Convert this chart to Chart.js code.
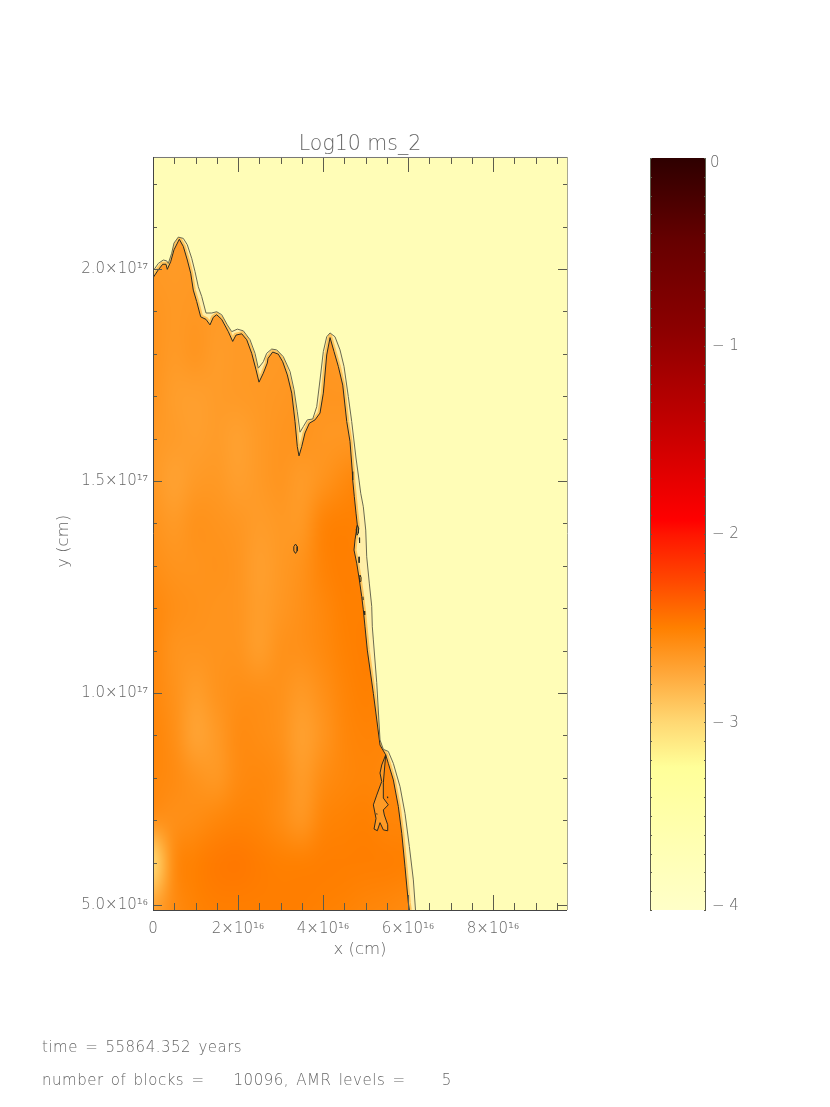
<!DOCTYPE html>
<html>
<head>
<meta charset="utf-8">
<title>Log10 ms_2</title>
<script src="https://cdn.jsdelivr.net/npm/chart.js@4"></script>
<style>
  html, body { margin: 0; padding: 0; background: #fff; }
  #page { position: relative; width: 830px; height: 1107px; overflow: hidden; }
  canvas { position: absolute; left: 0; top: 0; }
  .note { position: absolute; left: 42px; font: 200 15px "DejaVu Sans ExtraLight", "DejaVu Sans"; color: #666; white-space: pre; letter-spacing: 0.5px; word-spacing: 2px; }
</style>
</head>
<body>
<div id="page">
  <canvas id="field" width="830" height="1107"></canvas>
  <canvas id="bar" width="830" height="1107"></canvas>
  <div class="note" style="top:1038px">time = 55864.352 years</div>
  <div class="note" style="top:1071px">number of blocks =    10096, AMR levels =     5</div>
</div>
<script>
// all x and y values in units of 1e16 cm
const xMin = 0, xMax = 9.74, yMin = 4.88, yMax = 22.64;
const xTickValues = [0, 2, 4, 6, 8];
const xTickLabels = ['0', '2×10¹⁶', '4×10¹⁶', '6×10¹⁶', '8×10¹⁶'];
const yTickValues = [5, 10, 15, 20];
const yTickLabels = ['5.0×10¹⁶', '1.0×10¹⁷', '1.5×10¹⁷', '2.0×10¹⁷'];

// inner contour
const innerX = [0, .125, .228, .306, .336, .416, .494, .619, .713, .807, .887, .948, 1.028, 1.122, 1.247, 1.341, 1.419, 1.499, 1.616, 1.772, 1.875, 1.953, 2.087, 2.205, 2.322, 2.424, 2.494, 2.595, 2.689, 2.706, 2.816, 2.948, 3.052, 3.16, 3.264, 3.341, 3.395, 3.435, 3.499, 3.576, 3.678, 3.812, 3.929, 4.007, 4.087, 4.165, 4.259, 4.36, 4.464, 4.558, 4.635, 4.689, 4.699, 4.736, 4.776, 4.807, 4.753, 4.729, 4.793, 4.854, 4.911, 4.948, 4.988, 5.042, 5.184, 5.341, 5.475, 5.536, 5.654, 5.772, 5.852, 5.929, 6.007, 6.031];
const innerY = [19.79, 19.98, 20.11, 20.11, 19.99, 20.17, 20.45, 20.70, 20.53, 20.21, 19.90, 19.50, 19.23, 18.87, 18.81, 18.68, 18.86, 18.92, 18.81, 18.52, 18.29, 18.44, 18.47, 18.33, 18.01, 17.62, 17.33, 17.54, 17.78, 17.89, 18.04, 17.99, 17.81, 17.5, 17.07, 16.40, 15.81, 15.59, 15.81, 16.13, 16.36, 16.44, 16.6, 17.07, 17.97, 18.38, 18.05, 17.70, 17.26, 16.40, 15.93, 15.22, 15.02, 14.63, 14.24, 13.96, 13.61, 13.37, 13.06, 12.67, 12.27, 11.96, 11.56, 11.01, 9.99, 8.77, 8.54, 8.34, 7.95, 7.32, 6.69, 5.90, 5.05, 4.88];

// outer contour
const outerX = [0, .125, .242, .322, .36, .44, .494, .595, .713, .807, .911, .988, 1.066, 1.146, 1.247, 1.381, 1.499, 1.616, 1.748, 1.852, 1.984, 2.125, 2.282, 2.4, 2.478, 2.595, 2.675, 2.793, 2.911, 3.066, 3.224, 3.318, 3.395, 3.459, 3.536, 3.631, 3.758, 3.852, 3.929, 4.007, 4.087, 4.165, 4.282, 4.4, 4.494, 4.595, 4.675, 4.776, 4.847, 4.887, 4.948, 5.005, 5.028, 5.089, 5.146, 5.16, 5.184, 5.264, 5.341, 5.419, 5.536, 5.654, 5.812, 5.929, 6.031, 6.125, 6.176];
const outerY = [19.95, 20.13, 20.21, 20.19, 20.13, 20.37, 20.61, 20.75, 20.72, 20.57, 20.25, 19.94, 19.58, 19.35, 18.96, 18.96, 18.99, 18.92, 18.68, 18.52, 18.58, 18.54, 18.33, 18.01, 17.66, 17.81, 18.01, 18.11, 18.09, 17.93, 17.58, 17.15, 16.63, 16.15, 16.28, 16.44, 16.46, 16.75, 17.38, 18.05, 18.40, 18.49, 18.40, 18.09, 17.70, 16.99, 16.40, 15.54, 15.02, 14.71, 14.39, 13.84, 13.21, 12.59, 12.04, 11.56, 11.25, 10.24, 8.89, 8.67, 8.62, 8.34, 7.79, 7.16, 6.38, 5.59, 4.88];

// closed island behind the front near the bottom
const islandX = [5.475, 5.381, 5.341, 5.381, 5.264, 5.184, 5.247, 5.2, 5.278, 5.341, 5.419, 5.513, 5.522, 5.442, 5.419, 5.536, 5.419, 5.419, 5.475];
const islandY = [8.54, 8.30, 8.11, 7.91, 7.59, 7.36, 7.04, 6.79, 6.75, 6.94, 6.77, 6.75, 6.89, 7.12, 7.24, 7.36, 7.52, 7.88, 8.54];

// small closed contours and dashes
const smallContours = [
  [[3.353, 3.393, 3.393, 3.353, 3.313, 3.313, 3.353], [13.51, 13.45, 13.35, 13.29, 13.35, 13.45, 13.51]],
  [[4.81, 4.84, 4.83, 4.80, 4.78, 4.81], [13.96, 13.88, 13.77, 13.72, 13.85, 13.96]],
  [[4.854, 4.86], [13.66, 13.54]],
  [[4.847, 4.85], [13.21, 13.07]],
  [[4.87, 4.895, 4.89, 4.865, 4.86, 4.87], [12.78, 12.72, 12.63, 12.62, 12.72, 12.78]],
  [[4.94, 4.945], [12.27, 12.19]],
  [[4.972, 4.98], [11.93, 11.84]],
  [[5.513, 5.52], [7.55, 7.52]],
  [[5.264, 5.27], [7.16, 7.13]]
];

// log10 ms_2 read by eye on a coarse grid
const fieldX = [0, .5, 1, 1.5, 2, 2.5, 3, 3.5, 4, 4.5, 5, 5.5, 6];
const fieldY = [21, 20, 19, 18, 17, 16, 15, 14, 13, 12, 11, 10, 9, 8, 7, 6, 5, 4];
const fieldValues = [
  [-2.65, -2.65, -2.65, -2.65, -2.65, -2.65, -2.65, -2.65, -2.65, -2.65, -2.65, -2.65, -2.65],
  [-2.65, -2.66, -2.65, -2.66, -2.65, -2.65, -2.65, -2.65, -2.65, -2.65, -2.65, -2.65, -2.65],
  [-2.63, -2.65, -2.64, -2.66, -2.66, -2.66, -2.65, -2.65, -2.66, -2.66, -2.66, -2.66, -2.66],
  [-2.62, -2.66, -2.63, -2.67, -2.66, -2.66, -2.65, -2.64, -2.64, -2.66, -2.66, -2.66, -2.66],
  [-2.63, -2.68, -2.69, -2.67, -2.66, -2.65, -2.64, -2.63, -2.63, -2.63, -2.63, -2.63, -2.63],
  [-2.65, -2.67, -2.69, -2.67, -2.70, -2.66, -2.63, -2.62, -2.64, -2.64, -2.64, -2.64, -2.64],
  [-2.65, -2.71, -2.66, -2.65, -2.69, -2.66, -2.63, -2.67, -2.62, -2.56, -2.52, -2.52, -2.52],
  [-2.62, -2.66, -2.61, -2.62, -2.64, -2.67, -2.65, -2.65, -2.52, -2.50, -2.52, -2.52, -2.52],
  [-2.59, -2.62, -2.62, -2.61, -2.63, -2.69, -2.65, -2.61, -2.52, -2.49, -2.52, -2.52, -2.52],
  [-2.55, -2.59, -2.61, -2.62, -2.63, -2.68, -2.64, -2.60, -2.55, -2.50, -2.50, -2.50, -2.50],
  [-2.55, -2.62, -2.63, -2.62, -2.62, -2.68, -2.61, -2.60, -2.56, -2.51, -2.49, -2.49, -2.49],
  [-2.55, -2.61, -2.68, -2.62, -2.59, -2.59, -2.61, -2.66, -2.60, -2.53, -2.50, -2.53, -2.53],
  [-2.53, -2.59, -2.72, -2.66, -2.57, -2.58, -2.61, -2.70, -2.63, -2.54, -2.52, -2.53, -2.53],
  [-2.54, -2.57, -2.62, -2.65, -2.57, -2.55, -2.58, -2.67, -2.58, -2.54, -2.53, -2.54, -2.54],
  [-2.60, -2.60, -2.58, -2.54, -2.52, -2.53, -2.58, -2.64, -2.53, -2.51, -2.50, -2.53, -2.53],
  [-3.05, -2.56, -2.50, -2.47, -2.46, -2.48, -2.50, -2.50, -2.49, -2.49, -2.49, -2.49, -2.50],
  [-2.72, -2.57, -2.51, -2.49, -2.49, -2.49, -2.49, -2.49, -2.50, -2.51, -2.53, -2.54, -2.56],
  [-2.62, -2.58, -2.54, -2.52, -2.51, -2.50, -2.50, -2.52, -2.54, -2.56, -2.58, -2.58, -2.60]
];

// colour bar
const barLevels = [0, -0.44, -0.915, -1.5, -1.925, -2, -2.25, -2.5, -2.75, -3, -3.18, -3.24, -4];
const barColors = ['#2e0000', '#660000', '#8c0000', '#cc0000', '#ff0000', '#ff1500', '#ff4800', '#ff8000', '#ffa93c', '#ffd873', '#fff58f', '#ffff99', '#ffffc8'];
const barTickValues = [0, -1, -2, -3, -4];
const barTickLabels = ['0', '− 1', '− 2', '− 3', '− 4'];
const barTickNudge = [5, 0, 0, 1, -4];

const textColor = '#666';
const fontFamily = '"DejaVu Sans ExtraLight", "DejaVu Sans"';
const plotBackground = '#fffdb7';
const outerBandColor = '#ffefa8';
const innerBandColor = '#ffc45c';
const islandColor = '#ff9a25';

function rgbOf(hex) {
  return [1, 3, 5].map(i => parseInt(hex.substr(i, 2), 16));
}

function colorFor(value) {
  for (let i = 1; i < barLevels.length; i++) {
    if (value >= barLevels[i]) {
      const t = (barLevels[i - 1] - value) / (barLevels[i - 1] - barLevels[i]);
      const a = rgbOf(barColors[i - 1]), b = rgbOf(barColors[i]);
      return a.map((c, k) => Math.round(c + (b[k] - c) * t));
    }
  }
  return rgbOf(barColors[barColors.length - 1]);
}

function zipPoints(xs, ys) {
  return xs.map((x, i) => ({ x: x, y: ys[i] }));
}

function contourDataset(xs, ys, color) {
  return {
    data: zipPoints(xs, ys),
    showLine: true,
    borderColor: color,
    borderWidth: 1,
    pointRadius: 0,
    tension: 0
  };
}

function traceLine(ctx, chart, xs, ys) {
  const sx = chart.scales.x, sy = chart.scales.y;
  ctx.beginPath();
  xs.forEach((x, i) => {
    const px = sx.getPixelForValue(x), py = sy.getPixelForValue(ys[i]);
    if (i === 0) ctx.moveTo(px, py); else ctx.lineTo(px, py);
  });
}

function tracePolygon(ctx, chart, xs, ys) {
  const sx = chart.scales.x, sy = chart.scales.y;
  traceLine(ctx, chart, xs, ys);
  ctx.lineTo(sx.getPixelForValue(xs[xs.length - 1]), sy.getPixelForValue(yMin));
  ctx.lineTo(sx.getPixelForValue(xMin), sy.getPixelForValue(yMin));
  ctx.closePath();
}

// the flat background, the band between contours and the smoothed field inside
const fieldLayers = {
  id: 'fieldLayers',
  beforeDatasetsDraw(chart) {
    const ctx = chart.ctx, area = chart.chartArea;
    const sx = chart.scales.x, sy = chart.scales.y;
    ctx.save();
    ctx.fillStyle = plotBackground;
    ctx.fillRect(area.left, area.top, area.width, area.height);

    tracePolygon(ctx, chart, outerX, outerY);
    ctx.fillStyle = outerBandColor;
    ctx.fill();
    ctx.clip();
    traceLine(ctx, chart, innerX, innerY);
    ctx.strokeStyle = innerBandColor;
    ctx.lineWidth = 5;
    ctx.stroke();
    ctx.restore();

    ctx.save();
    const small = document.createElement('canvas');
    small.width = fieldX.length;
    small.height = fieldY.length;
    const sctx = small.getContext('2d');
    const img = sctx.createImageData(small.width, small.height);
    fieldValues.forEach((row, r) => row.forEach((v, c) => {
      const rgb = colorFor(v), k = 4 * (r * small.width + c);
      img.data[k] = rgb[0]; img.data[k + 1] = rgb[1]; img.data[k + 2] = rgb[2]; img.data[k + 3] = 255;
    }));
    sctx.putImageData(img, 0, 0);

    tracePolygon(ctx, chart, innerX, innerY);
    ctx.clip();
    // each grid value is the centre of one source pixel
    const dx = fieldX[1] - fieldX[0], dy = fieldY[0] - fieldY[1];
    const left = sx.getPixelForValue(fieldX[0] - dx / 2);
    const right = sx.getPixelForValue(fieldX[fieldX.length - 1] + dx / 2);
    const top = sy.getPixelForValue(fieldY[0] + dy / 2);
    const bottom = sy.getPixelForValue(fieldY[fieldY.length - 1] - dy / 2);
    ctx.imageSmoothingEnabled = true;
    ctx.imageSmoothingQuality = 'high';
    ctx.drawImage(small, left, top, right - left, bottom - top);
    ctx.restore();

    ctx.save();
    traceLine(ctx, chart, islandX, islandY);
    ctx.closePath();
    ctx.fillStyle = islandColor;
    ctx.fill();
    ctx.restore();
  }
};

// IDL style frame with ticks pointing inward on all four sides
const frameTicks = {
  id: 'frameTicks',
  afterDatasetsDraw(chart) {
    const ctx = chart.ctx, a = chart.chartArea;
    const sx = chart.scales.x, sy = chart.scales.y;
    ctx.save();
    ctx.lineWidth = 1;
    ctx.strokeStyle = '#5c5c4c';
    const seg = (x1, y1, x2, y2) => {
      ctx.beginPath();
      ctx.moveTo(x1, y1);
      ctx.lineTo(x2, y2);
      ctx.stroke();
    };
    for (let v = 0.5; v < xMax; v += 0.5) {
      const p = Math.round(sx.getPixelForValue(v)) + 0.5;
      const len = xTickValues.includes(v) ? 15 : 7;
      seg(p, a.bottom, p, a.bottom - len);
      seg(p, a.top, p, a.top + len);
    }
    for (let v = 5; v < yMax; v += 1) {
      const p = Math.round(sy.getPixelForValue(v)) + 0.5;
      const len = yTickValues.includes(v) ? 9 : 4;
      seg(a.left, p, a.left + len, p);
      seg(a.right, p, a.right - len, p);
    }
    ctx.strokeStyle = '#777';
    seg(a.left, a.top + 0.5, a.right, a.top + 0.5);
    ctx.strokeStyle = '#a8a890';
    seg(a.right + 0.5, a.top, a.right + 0.5, a.bottom);
    ctx.strokeStyle = '#444';
    seg(a.left + 0.5, a.top, a.left + 0.5, a.bottom);
    seg(a.left, a.bottom + 0.5, a.right, a.bottom + 0.5);
    ctx.restore();
  }
};

const allDatasets = [
  contourDataset(outerX, outerY, '#6a6a50'),
  contourDataset(innerX, innerY, '#2a2a20'),
  contourDataset(islandX, islandY, '#2a2a20')
].concat(smallContours.map(c => contourDataset(c[0], c[1], '#2a2a20')));

new Chart(document.getElementById('field'), {
  type: 'scatter',
  data: { datasets: allDatasets },
  options: {
    responsive: false,
    animation: false,
    layout: { padding: { left: 0, right: 263, top: 133, bottom: 147 } },
    plugins: {
      legend: { display: false },
      tooltip: { enabled: false },
      title: {
        display: true,
        text: 'Log10 ms_2',
        fullSize: false,
        color: textColor,
        font: { family: fontFamily, size: 20.5, weight: 200, lineHeight: 1.17 },
        padding: { top: 0, bottom: 0 }
      }
    },
    scales: {
      x: {
        type: 'linear',
        min: xMin,
        max: xMax,
        grid: { display: false },
        border: { display: false },
        afterFit(scale) { scale.height = 50; },
        title: { display: true, text: 'x (cm)', color: textColor, font: { family: fontFamily, size: 16.5, weight: 200 }, padding: { top: 0, bottom: 0 } },
        ticks: {
          stepSize: 2,
          includeBounds: false,
          maxRotation: 0,
          autoSkip: false,
          padding: 2,
          color: textColor,
          font: { family: fontFamily, size: 15, weight: 200 },
          callback(v) { return xTickLabels[xTickValues.indexOf(v)]; }
        }
      },
      y: {
        type: 'linear',
        min: yMin,
        max: yMax,
        grid: { display: false },
        border: { display: false },
        afterFit(scale) { scale.width = 153; },
        title: { display: true, text: 'y (cm)   ', color: textColor, font: { family: fontFamily, size: 16.5, weight: 200 }, padding: { top: 54, bottom: 0 } },
        ticks: {
          stepSize: 5,
          includeBounds: false,
          autoSkip: false,
          padding: -3,
          color: textColor,
          font: { family: fontFamily, size: 15, weight: 200 },
          callback(v) { return yTickLabels[yTickValues.indexOf(v)]; }
        }
      }
    }
  },
  plugins: [fieldLayers, frameTicks]
});

// colour bar edges, tenth-of-a-decade ticks and nudged labels
const barFrame = {
  id: 'barFrame',
  afterDatasetsDraw(chart) {
    const ctx = chart.ctx, a = chart.chartArea, sy = chart.scales.y;
    ctx.save();
    ctx.lineWidth = 1;
    ctx.strokeStyle = '#5c5c4c';
    ctx.beginPath();
    ctx.moveTo(a.left + 0.5, a.top);
    ctx.lineTo(a.left + 0.5, a.bottom);
    ctx.moveTo(a.right - 0.5, a.top);
    ctx.lineTo(a.right - 0.5, a.bottom);
    for (let i = 0; i <= 40; i++) {
      const p = Math.round(sy.getPixelForValue(-i / 10)) + 0.5;
      ctx.moveTo(a.left, p);
      ctx.lineTo(a.left + 2, p);
      ctx.moveTo(a.right, p);
      ctx.lineTo(a.right - 2, p);
    }
    ctx.stroke();
    ctx.fillStyle = textColor;
    ctx.font = '200 15px ' + fontFamily;
    ctx.textAlign = 'left';
    ctx.textBaseline = 'middle';
    barTickValues.forEach((v, i) => {
      ctx.fillText(barTickLabels[i], i === 0 ? 710 : 712, sy.getPixelForValue(v) + barTickNudge[i]);
    });
    ctx.restore();
  }
};

new Chart(document.getElementById('bar'), {
  type: 'bar',
  data: {
    labels: ['Log10 ms_2'],
    datasets: [{
      data: [[barLevels[barLevels.length - 1], barLevels[0]]],
      barPercentage: 1,
      categoryPercentage: 1,
      backgroundColor(context) {
        const chart = context.chart, area = chart.chartArea;
        if (!area) return barColors[0];
        const g = chart.ctx.createLinearGradient(0, area.top, 0, area.bottom);
        barLevels.forEach((lv, i) => g.addColorStop((barLevels[0] - lv) / (barLevels[0] - barLevels[barLevels.length - 1]), barColors[i]));
        return g;
      }
    }]
  },
  options: {
    responsive: false,
    animation: false,
    layout: { padding: { left: 650, right: 124, top: 158, bottom: 197 } },
    plugins: { legend: { display: false }, tooltip: { enabled: false } },
    scales: {
      x: { display: false },
      y: { display: false, min: -4, max: 0 }
    }
  },
  plugins: [barFrame]
});
</script>
</body>
</html>
